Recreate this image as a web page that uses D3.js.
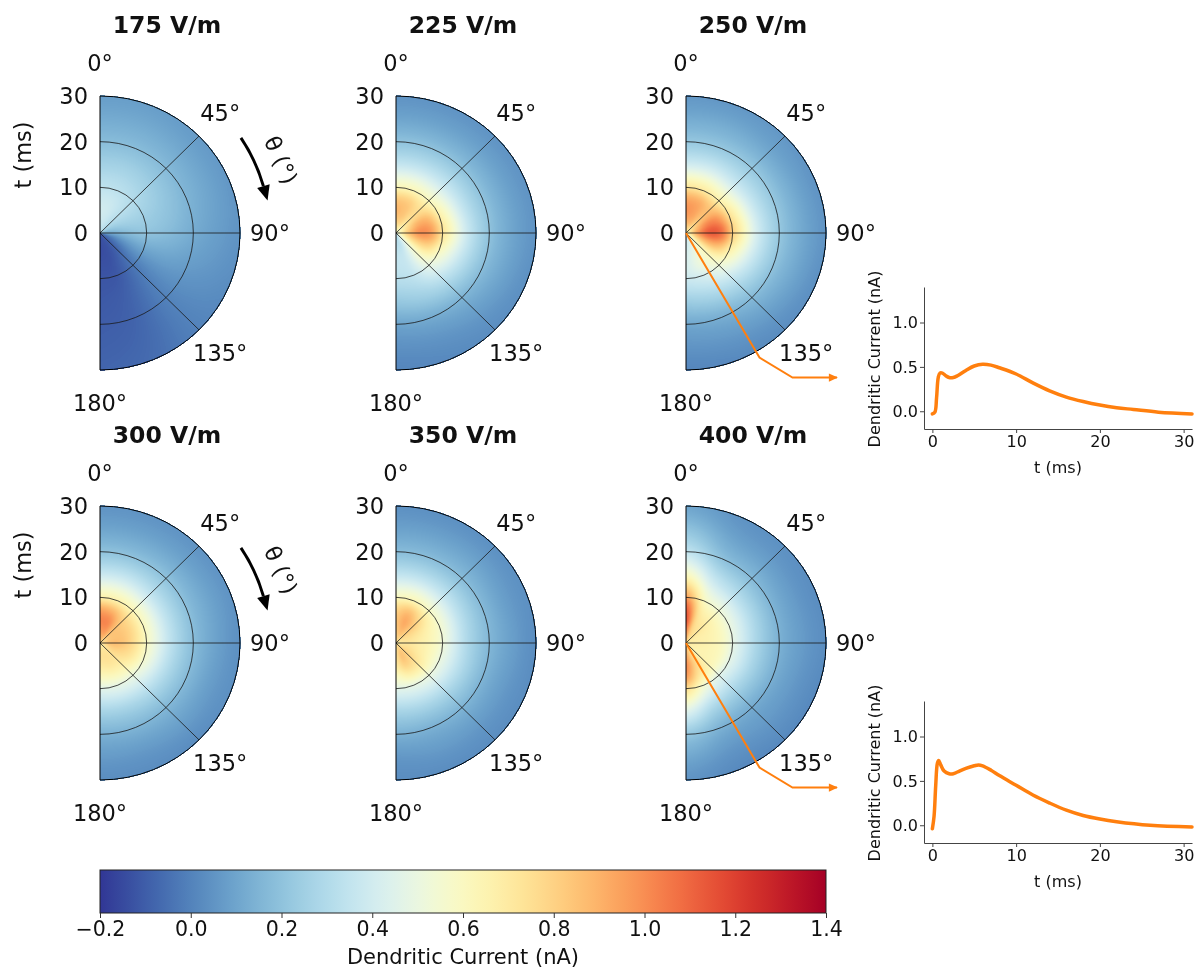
<!DOCTYPE html>
<html>
<head>
<meta charset="utf-8">
<script src="https://cdn.jsdelivr.net/npm/d3@7"></script>
<style>
  body { margin: 0; background: #fff; }
  #wrap { position: relative; width: 1195px; height: 968px; }
  #wrap canvas, #wrap svg { position: absolute; left: 0; top: 0; }
  text { font-family: "DejaVu Sans", sans-serif; fill: #111; }
</style>
</head>
<body>
<div id="wrap">
  <canvas id="heat" width="1195" height="968"></canvas>
  <svg id="chart" width="1195" height="968"></svg>
</div>
<script>
// ---- data ---------------------------------------------------------------
// Field grids: rows follow thetaGrid (deg), columns follow timeGrid (ms); values in nA.
const thetaGrid = [0, 22.5, 45, 67.5, 90, 112.5, 135, 157.5, 180];
const timeGrid  = [0, 2.5, 5, 7.5, 10, 15, 20, 25, 30];

const field175 = [
  [0.32, 0.38, 0.40, 0.38, 0.34, 0.26, 0.18, 0.12, 0.08],
  [0.32, 0.36, 0.38, 0.37, 0.33, 0.26, 0.18, 0.12, 0.08],
  [0.28, 0.30, 0.32, 0.32, 0.30, 0.24, 0.17, 0.11, 0.07],
  [0.20, 0.22, 0.25, 0.26, 0.25, 0.21, 0.15, 0.10, 0.06],
  [0.10, 0.12, 0.16, 0.19, 0.20, 0.17, 0.12, 0.08, 0.05],
  [-0.05, -0.02, 0.03, 0.07, 0.09, 0.09, 0.07, 0.05, 0.03],
  [-0.10, -0.10, -0.08, -0.05, -0.03, -0.01, 0.00, 0.00, 0.00],
  [-0.12, -0.13, -0.13, -0.12, -0.11, -0.09, -0.08, -0.07, -0.06],
  [-0.12, -0.14, -0.14, -0.13, -0.12, -0.11, -0.10, -0.09, -0.08]
];
const field225 = [
  [0.60, 0.80, 0.88, 0.82, 0.62, 0.36, 0.20, 0.10, 0.05],
  [0.60, 0.78, 0.84, 0.80, 0.62, 0.36, 0.20, 0.10, 0.05],
  [0.55, 0.70, 0.76, 0.74, 0.60, 0.36, 0.20, 0.10, 0.05],
  [0.55, 0.76, 0.90, 0.88, 0.67, 0.37, 0.20, 0.10, 0.05],
  [0.55, 0.82, 0.98, 0.95, 0.72, 0.39, 0.20, 0.10, 0.05],
  [0.50, 0.70, 0.80, 0.78, 0.60, 0.35, 0.18, 0.09, 0.04],
  [0.45, 0.50, 0.55, 0.55, 0.48, 0.30, 0.15, 0.07, 0.03],
  [0.35, 0.35, 0.38, 0.38, 0.35, 0.25, 0.12, 0.05, 0.02],
  [0.30, 0.32, 0.35, 0.35, 0.32, 0.22, 0.10, 0.04, 0.01]
];
const field250 = [
  [0.70, 0.90, 0.98, 0.92, 0.72, 0.40, 0.22, 0.12, 0.06],
  [0.70, 0.88, 0.94, 0.90, 0.70, 0.40, 0.22, 0.12, 0.06],
  [0.65, 0.80, 0.86, 0.84, 0.66, 0.38, 0.22, 0.11, 0.06],
  [0.65, 0.88, 1.02, 0.98, 0.74, 0.40, 0.22, 0.11, 0.05],
  [0.65, 0.95, 1.12, 1.08, 0.80, 0.42, 0.22, 0.11, 0.05],
  [0.60, 0.80, 0.90, 0.86, 0.66, 0.38, 0.20, 0.10, 0.04],
  [0.50, 0.58, 0.62, 0.60, 0.52, 0.32, 0.17, 0.08, 0.03],
  [0.42, 0.45, 0.50, 0.50, 0.42, 0.27, 0.13, 0.06, 0.02],
  [0.38, 0.40, 0.42, 0.42, 0.38, 0.24, 0.11, 0.05, 0.01]
];
const field300 = [
  [0.80, 0.95, 1.02, 0.92, 0.66, 0.38, 0.20, 0.10, 0.05],
  [0.80, 0.95, 1.00, 0.88, 0.65, 0.38, 0.20, 0.10, 0.05],
  [0.75, 0.85, 0.85, 0.78, 0.62, 0.36, 0.20, 0.10, 0.05],
  [0.75, 0.84, 0.84, 0.76, 0.60, 0.35, 0.19, 0.10, 0.05],
  [0.75, 0.86, 0.84, 0.74, 0.58, 0.34, 0.18, 0.09, 0.04],
  [0.70, 0.80, 0.78, 0.70, 0.55, 0.32, 0.17, 0.08, 0.04],
  [0.68, 0.74, 0.72, 0.64, 0.50, 0.30, 0.16, 0.08, 0.03],
  [0.68, 0.74, 0.72, 0.62, 0.48, 0.28, 0.15, 0.07, 0.03],
  [0.68, 0.74, 0.70, 0.60, 0.46, 0.27, 0.14, 0.07, 0.03]
];
const field350 = [
  [0.75, 0.82, 0.84, 0.78, 0.60, 0.35, 0.18, 0.09, 0.04],
  [0.75, 0.86, 0.92, 0.84, 0.62, 0.35, 0.18, 0.09, 0.04],
  [0.72, 0.80, 0.82, 0.74, 0.58, 0.34, 0.18, 0.09, 0.04],
  [0.70, 0.75, 0.72, 0.65, 0.55, 0.32, 0.17, 0.08, 0.04],
  [0.70, 0.72, 0.68, 0.62, 0.52, 0.30, 0.16, 0.08, 0.03],
  [0.72, 0.75, 0.70, 0.62, 0.50, 0.30, 0.15, 0.07, 0.03],
  [0.75, 0.80, 0.76, 0.66, 0.50, 0.29, 0.15, 0.07, 0.03],
  [0.74, 0.84, 0.80, 0.66, 0.48, 0.28, 0.14, 0.07, 0.03],
  [0.70, 0.74, 0.70, 0.58, 0.46, 0.27, 0.14, 0.06, 0.03]
];
const field400 = [
  [0.85, 1.00, 1.15, 1.12, 0.95, 0.60, 0.35, 0.20, 0.10],
  [0.80, 0.80, 0.78, 0.72, 0.60, 0.38, 0.20, 0.10, 0.05],
  [0.72, 0.72, 0.70, 0.64, 0.53, 0.32, 0.17, 0.08, 0.04],
  [0.70, 0.68, 0.66, 0.61, 0.50, 0.30, 0.15, 0.07, 0.03],
  [0.70, 0.68, 0.65, 0.60, 0.48, 0.28, 0.14, 0.07, 0.03],
  [0.70, 0.66, 0.64, 0.60, 0.47, 0.27, 0.13, 0.06, 0.02],
  [0.70, 0.66, 0.66, 0.62, 0.46, 0.26, 0.12, 0.06, 0.02],
  [0.78, 0.78, 0.80, 0.72, 0.55, 0.30, 0.14, 0.06, 0.02],
  [0.85, 0.92, 1.00, 0.95, 0.75, 0.45, 0.22, 0.11, 0.05]
];

const panelTitles = ["175 V/m", "225 V/m", "250 V/m", "300 V/m", "350 V/m", "400 V/m"];
const panelFields = [field175, field225, field250, field300, field350, field400];

const thetaTicks  = [0, 45, 90, 135, 180];
const radiusTicks = [0, 10, 20, 30];
const gridRadii   = [10, 20];
const gridAngles  = [45, 90, 135];

// Dendritic current traces at theta = 150 deg
const traceAngle = 150;
const trace250T = [0, 0.3, 0.5, 0.7, 0.9, 1.2, 1.6, 2.0, 2.5, 3, 4, 5, 6, 7, 8, 10, 12, 14, 16, 18, 20, 22, 24, 27, 31];
const trace250V = [-0.03, -0.01, 0.15, 0.38, 0.43, 0.43, 0.40, 0.38, 0.38, 0.40, 0.46, 0.51, 0.53, 0.52, 0.49, 0.42, 0.32, 0.23, 0.16, 0.11, 0.07, 0.04, 0.02, -0.01, -0.03];
const trace400T = [0, 0.2, 0.4, 0.6, 0.75, 1.0, 1.4, 2.0, 2.5, 3, 4, 5, 5.5, 6, 7, 8, 10, 12, 14, 16, 18, 20, 22, 26, 31];
const trace400V = [-0.04, 0.10, 0.45, 0.70, 0.73, 0.68, 0.61, 0.58, 0.58, 0.60, 0.64, 0.67, 0.68, 0.67, 0.62, 0.56, 0.45, 0.34, 0.25, 0.17, 0.11, 0.07, 0.04, 0.00, -0.02];
const insetXTicks = [0, 10, 20, 30];
const insetYTicks = [0.0, 0.5, 1.0];

const colorbarTicks = [-0.2, 0.0, 0.2, 0.4, 0.6, 0.8, 1.0, 1.2, 1.4];

// ---- layout --------------------------------------------------------------
const R = 137;            // polar radius in px (vertical)
const KX = 140 / 137;     // horizontal stretch of the polar axes
const colX = [100, 396, 686];
const rowY = [233, 643];
const LABEL_R = 170;

const rScale = d3.scaleLinear().domain([0, 30]).range([0, R]);
const color = d3.scaleSequential(d3.interpolateRdYlBu).domain([1.4, -0.2]);
const tIndex = d3.scaleLinear().domain(timeGrid).range(d3.range(timeGrid.length)).clamp(true);
const thIndex = d3.scaleLinear().domain(thetaGrid).range(d3.range(thetaGrid.length)).clamp(true);

// Smooth (Catmull-Rom) sampling of a field grid
function cr(p0, p1, p2, p3, f) {
  return 0.5 * (2 * p1 + (-p0 + p2) * f + (2 * p0 - 5 * p1 + 4 * p2 - p3) * f * f + (-p0 + 3 * p1 - 3 * p2 + p3) * f * f * f);
}
function sample1(arr, u) {
  const n = arr.length;
  let i = Math.floor(u); if (i >= n - 1) i = n - 2;
  const f = u - i;
  const g = k => arr[Math.max(0, Math.min(n - 1, k))];
  return cr(g(i - 1), g(i), g(i + 1), g(i + 2), f);
}
function sampleField(field, theta, t) {
  const u = tIndex(t), v = thIndex(theta);
  return sample1(field.map(row => sample1(row, u)), v);
}

// colour lookup table
const LUT = d3.range(512).map(i => d3.rgb(color(-0.2 + 1.6 * i / 511)));
function lut(v) {
  const i = Math.max(0, Math.min(511, Math.round((v + 0.2) / 1.6 * 511)));
  return LUT[i];
}

function polarXY(thetaDeg, t) {
  const a = thetaDeg * Math.PI / 180;
  return [rScale(t) * KX * Math.sin(a), -rScale(t) * Math.cos(a)];
}

// ---- heat maps (canvas) -----------------------------------------------------
const ctx = document.getElementById("heat").getContext("2d");
panelFields.forEach((field, i) => {
  const cx = colX[i % 3], cy = rowY[Math.floor(i / 3)];
  const x0 = Math.floor(cx) - 1, y0 = Math.floor(cy - R) - 1;
  const w = Math.ceil(R * KX) + 4, h = 2 * R + 4;
  const img = ctx.createImageData(w, h);
  for (let y = 0; y < h; y++) {
    for (let x = 0; x < w; x++) {
      const dx = (x0 + x + 0.5 - cx) / KX, dy = y0 + y + 0.5 - cy;
      const rr = Math.hypot(dx, dy);
      if (dx < 0 || rr > R + 0.6) continue;
      const t = rScale.invert(Math.min(rr, R));
      const th = Math.atan2(dx, -dy) * 180 / Math.PI;
      const c = lut(sampleField(field, th, t));
      const k = 4 * (y * w + x);
      img.data[k] = c.r; img.data[k + 1] = c.g; img.data[k + 2] = c.b; img.data[k + 3] = 255;
    }
  }
  ctx.putImageData(img, x0, y0);
});

// ---- vector overlay ---------------------------------------------------------
const svg = d3.select("#chart");
const defs = svg.append("defs");
defs.append("marker")
  .attr("id", "orangeHead").attr("markerUnits", "userSpaceOnUse")
  .attr("viewBox", "0 0 10 10").attr("refX", 9).attr("refY", 5)
  .attr("markerWidth", 10).attr("markerHeight", 9).attr("orient", "auto")
  .append("path").attr("d", "M0,0.5 L10,5 L0,9.5 Z").attr("fill", "#ff7f0e");

panelFields.forEach((field, i) => {
  const col = i % 3, row = Math.floor(i / 3);
  const cx = colX[col], cy = rowY[row];
  const g = svg.append("g").attr("transform", `translate(${cx},${cy})`);

  // grid circles
  g.selectAll("path.ring").data(gridRadii).join("path").attr("class", "ring")
    .attr("d", d => `M0,${-rScale(d)} A${rScale(d) * KX},${rScale(d)} 0 0 1 0,${rScale(d)}`)
    .attr("fill", "none").attr("stroke", "#1a1a1a").attr("stroke-width", 1).attr("stroke-opacity", 0.8);

  // radial lines
  g.selectAll("line.spoke").data(gridAngles).join("line").attr("class", "spoke")
    .attr("x1", 0).attr("y1", 0)
    .attr("x2", d => polarXY(d, 30)[0]).attr("y2", d => polarXY(d, 30)[1])
    .attr("stroke", "#1a1a1a").attr("stroke-width", 1).attr("stroke-opacity", 0.8);

  // outline
  g.append("path")
    .attr("d", `M0,${-R} A${R * KX},${R} 0 0 1 0,${R} Z`)
    .attr("fill", "none").attr("stroke", "#000").attr("stroke-width", 1);

  // angle labels
  g.selectAll("text.ang").data(thetaTicks).join("text").attr("class", "ang")
    .attr("x", d => LABEL_R * Math.sin(d * Math.PI / 180))
    .attr("y", d => -LABEL_R * Math.cos(d * Math.PI / 180))
    .attr("text-anchor", "middle").attr("dominant-baseline", "central")
    .attr("font-size", 22.5)
    .text(d => d + "°");

  // radius labels
  g.selectAll("text.rad").data(radiusTicks).join("text").attr("class", "rad")
    .attr("x", -12).attr("y", d => -rScale(d))
    .attr("text-anchor", "end").attr("dominant-baseline", "central")
    .attr("font-size", 22.5)
    .text(d => d);

  // title
  g.append("text").attr("x", 67).attr("y", 33 - 233)
    .attr("text-anchor", "middle").attr("font-size", 23.5).attr("font-weight", "bold")
    .text(panelTitles[i]);

  if (col === 0) {
    // radial axis label
    g.append("text")
      .attr("transform", `translate(${23 - cx},${-78}) rotate(-90)`)
      .attr("text-anchor", "middle").attr("dominant-baseline", "central")
      .attr("font-size", 22.5).text("t (ms)");

    // direction-of-theta arrow
    const ar = 170, a0 = 56, a1 = 74;
    const rad = d => d * Math.PI / 180;
    const pS = [ar * Math.sin(rad(a0)), -ar * Math.cos(rad(a0))];
    const pE = [ar * Math.sin(rad(a1)), -ar * Math.cos(rad(a1))];
    g.append("path")
      .attr("d", `M${pS[0]},${pS[1]} A${ar},${ar} 0 0 1 ${pE[0]},${pE[1]}`)
      .attr("fill", "none").attr("stroke", "#000").attr("stroke-width", 3);
    const dir = [Math.cos(rad(a1)), Math.sin(rad(a1))];
    const perp = [-dir[1], dir[0]];
    const tip = [pE[0] + dir[0] * 15, pE[1] + dir[1] * 15];
    g.append("path")
      .attr("d", `M${tip[0]},${tip[1]} L${pE[0] + perp[0] * 6.5},${pE[1] + perp[1] * 6.5} L${pE[0] - perp[0] * 6.5},${pE[1] - perp[1] * 6.5} Z`)
      .attr("fill", "#000");
    g.append("text")
      .attr("transform", `translate(${181},${-73}) rotate(66)`)
      .attr("text-anchor", "middle").attr("dominant-baseline", "central")
      .attr("font-size", 22.5).text("θ (°)");
  }
});

// ---- insets ------------------------------------------------------------------
function drawInset(panelIndex, top, tArr, vArr) {
  const cx = colX[panelIndex % 3], cy = rowY[Math.floor(panelIndex / 3)];
  const x = d3.scaleLinear().domain([-1, 31]).range([924, 1192]);
  const y = d3.scaleLinear().domain([-0.2, 1.4]).range([top + 142, top]);
  const g = svg.append("g");

  const ax = g.append("g").attr("transform", `translate(0,${top + 142})`)
    .call(d3.axisBottom(x).tickValues(insetXTicks).tickSize(4).tickPadding(3).tickSizeOuter(0));
  const ay = g.append("g").attr("transform", `translate(924,0)`)
    .call(d3.axisLeft(y).tickValues(insetYTicks).tickFormat(d3.format(".1f")).tickSize(4).tickPadding(2).tickSizeOuter(0));
  [ax, ay].forEach(a => {
    a.selectAll("path.domain").attr("stroke", "#444").attr("stroke-width", 1);
    a.selectAll(".tick line").attr("stroke", "#444");
    a.selectAll(".tick text").attr("font-size", 16).attr("fill", "#111")
      .attr("font-family", '"DejaVu Sans", sans-serif');
  });

  g.append("path")
    .datum(tArr.map((t, k) => [t, vArr[k]]))
    .attr("d", d3.line().x(d => x(d[0])).y(d => y(d[1])).curve(d3.curveCatmullRom.alpha(0.5)))
    .attr("fill", "none").attr("stroke", "#ff7f0e").attr("stroke-width", 3.5)
    .attr("stroke-linejoin", "round").attr("stroke-linecap", "round");

  g.append("text").attr("x", 1058).attr("y", top + 180)
    .attr("text-anchor", "middle").attr("dominant-baseline", "central")
    .attr("font-size", 16).text("t (ms)");
  g.append("text")
    .attr("transform", `translate(874,${top + 72}) rotate(-90)`)
    .attr("text-anchor", "middle").attr("dominant-baseline", "central")
    .attr("font-size", 16).text("Dendritic Current (nA)");

  // leader from the polar axes to the inset
  const p1 = polarXY(traceAngle, 31.5);
  const a = [cx + p1[0], cy + p1[1]];
  const b = [a[0] + 33, a[1] + 20];
  const c = [837, b[1]];
  svg.append("path")
    .attr("d", `M${cx},${cy} L${a[0]},${a[1]} L${b[0]},${b[1]} L${c[0]},${c[1]}`)
    .attr("fill", "none").attr("stroke", "#ff7f0e").attr("stroke-width", 2)
    .attr("marker-end", "url(#orangeHead)");
}
drawInset(2, 287, trace250T, trace250V);
drawInset(5, 701, trace400T, trace400V);

// ---- colour bar ----------------------------------------------------------------
const cb = d3.scaleLinear().domain([-0.2, 1.4]).range([100, 826]);
const grad = defs.append("linearGradient").attr("id", "cbGrad").attr("x1", "0%").attr("x2", "100%");
grad.selectAll("stop").data(d3.range(0, 1.0001, 0.02)).join("stop")
  .attr("offset", d => (d * 100) + "%")
  .attr("stop-color", d => color(-0.2 + 1.6 * d));
svg.append("rect").attr("x", 100).attr("y", 870).attr("width", 726).attr("height", 43)
  .attr("fill", "url(#cbGrad)").attr("stroke", "#222").attr("stroke-width", 1);
const cbAxis = svg.append("g").attr("transform", "translate(0,913)")
  .call(d3.axisBottom(cb).tickValues(colorbarTicks).tickFormat(d3.format(".1f")).tickSize(5).tickPadding(3).tickSizeOuter(0));
cbAxis.select("path.domain").remove();
cbAxis.selectAll(".tick line").attr("stroke", "#333");
cbAxis.selectAll(".tick text").attr("font-size", 20.5).attr("fill", "#111")
  .attr("font-family", '"DejaVu Sans", sans-serif');
svg.append("text").attr("x", 463).attr("y", 957)
  .attr("text-anchor", "middle").attr("dominant-baseline", "central")
  .attr("font-size", 21).text("Dendritic Current (nA)");
</script>
</body>
</html>
